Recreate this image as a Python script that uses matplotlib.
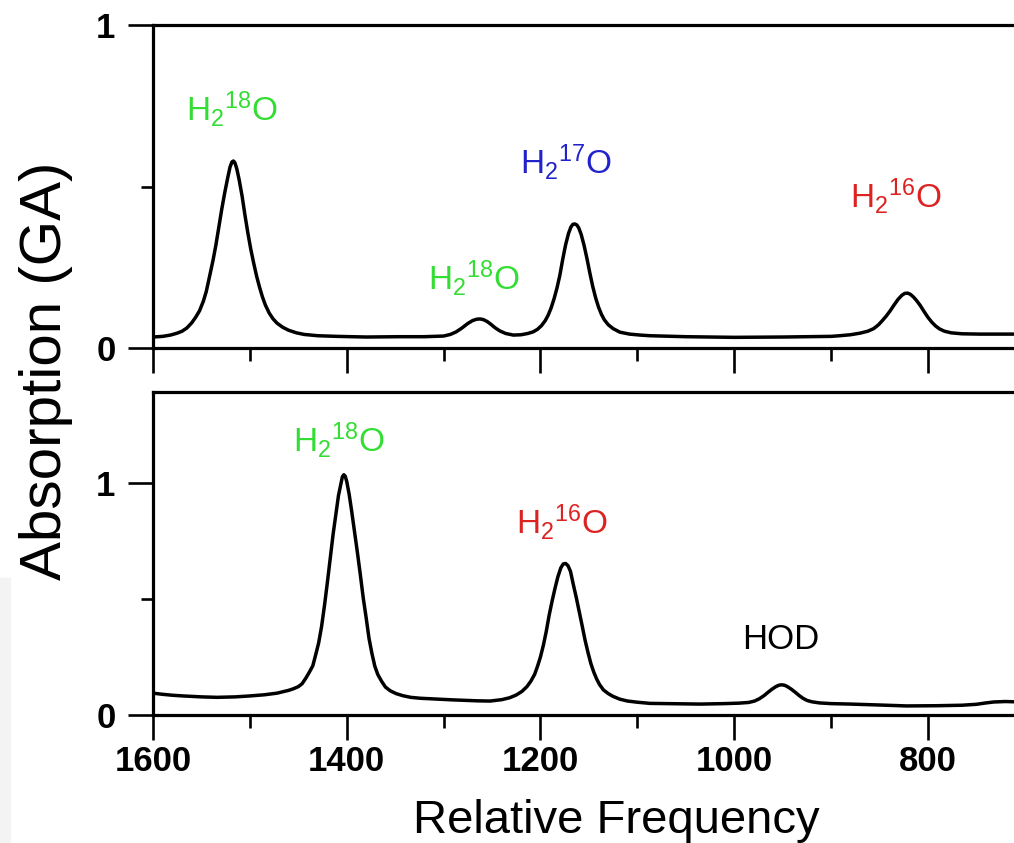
import matplotlib
matplotlib.use('Agg')
import matplotlib.pyplot as plt
from matplotlib.patches import Rectangle

plt.rcParams['font.family'] = ['Liberation Sans', 'DejaVu Sans']
plt.rcParams['mathtext.default'] = 'regular'

# upper spectrum, (frequency, absorption)
top_trace = [
    (1600, 0.034), (1590, 0.036), (1582, 0.040), (1575, 0.046), (1570, 0.052), (1565, 0.062),
    (1560, 0.078), (1556, 0.095), (1552, 0.115), (1548, 0.145), (1545, 0.175), (1541, 0.230),
    (1538, 0.272), (1535, 0.320), (1532, 0.375), (1529, 0.430), (1526, 0.480), (1523, 0.525),
    (1520.5, 0.560), (1518.5, 0.576), (1517, 0.579), (1515.5, 0.574), (1513.5, 0.555),
    (1511, 0.520), (1508, 0.470), (1505, 0.410), (1502, 0.355), (1499, 0.305), (1496, 0.262),
    (1493, 0.222), (1490, 0.188), (1487, 0.158), (1484, 0.133), (1480, 0.108), (1476, 0.090),
    (1472, 0.077), (1466, 0.064), (1460, 0.055), (1452, 0.047), (1444, 0.042), (1430, 0.038),
    (1410, 0.036), (1380, 0.034), (1345, 0.035), (1320, 0.035), (1300, 0.037), (1293, 0.042),
    (1287, 0.050), (1281, 0.062), (1275, 0.076), (1270, 0.085), (1266, 0.089), (1262.5, 0.090),
    (1259, 0.088), (1255, 0.082), (1251, 0.073), (1247, 0.063), (1242, 0.053), (1236, 0.045),
    (1228, 0.040), (1220, 0.041), (1213, 0.045), (1207.5, 0.050), (1203, 0.058), (1199, 0.069),
    (1195, 0.085), (1192, 0.102), (1189, 0.124), (1186, 0.152), (1183, 0.185), (1180, 0.225),
    (1177, 0.275), (1174, 0.320), (1171, 0.355), (1168.5, 0.375), (1166.5, 0.383),
    (1164.5, 0.384), (1162.5, 0.381), (1160.5, 0.372), (1158, 0.352), (1155, 0.318),
    (1152, 0.277), (1149, 0.232), (1146, 0.190), (1143, 0.155), (1140, 0.126), (1137, 0.104),
    (1134, 0.087), (1130, 0.072), (1125, 0.060), (1118, 0.049), (1108, 0.043), (1097, 0.040),
    (1087, 0.038), (1050, 0.035), (1000, 0.033), (950, 0.034), (900, 0.036), (891, 0.038),
    (880, 0.041), (870, 0.046), (862, 0.052), (856, 0.060), (851, 0.072), (847, 0.085),
    (843, 0.099), (839, 0.115), (835, 0.133), (831, 0.150), (827, 0.163), (824, 0.169),
    (821, 0.170), (818, 0.166), (815, 0.158), (812, 0.148), (808, 0.132), (804, 0.113),
    (800, 0.095), (796, 0.080), (792, 0.068), (788, 0.059), (783, 0.052), (776, 0.047),
    (765, 0.044), (746, 0.043), (712, 0.043)]

# lower spectrum
bot_trace = [
    (1600, 0.094), (1590, 0.089), (1580, 0.085), (1569, 0.082), (1550, 0.078), (1534, 0.076),
    (1515, 0.078), (1500, 0.082), (1485, 0.087), (1472, 0.094), (1466, 0.100), (1460, 0.106),
    (1455, 0.113), (1450, 0.122), (1446, 0.135), (1442, 0.160), (1438.5, 0.185), (1435, 0.212),
    (1432, 0.260), (1429, 0.310), (1426, 0.380), (1423, 0.470), (1420, 0.570), (1417, 0.675),
    (1414, 0.780), (1411, 0.870), (1408.5, 0.945), (1406, 0.995), (1404.5, 1.025), (1403, 1.034),
    (1401.5, 1.027), (1400, 1.005), (1397.5, 0.950), (1395, 0.880), (1392, 0.790), (1389, 0.700),
    (1386, 0.605), (1383, 0.505), (1380, 0.420), (1377, 0.330), (1374, 0.265), (1371, 0.210),
    (1368, 0.175), (1364, 0.145), (1360, 0.120), (1355, 0.104), (1349, 0.092), (1342, 0.083),
    (1334, 0.076), (1324, 0.072), (1290, 0.065), (1265, 0.061), (1252, 0.060), (1240, 0.066),
    (1232, 0.074), (1225, 0.086), (1219, 0.102), (1214, 0.122), (1210, 0.145), (1206, 0.175),
    (1203, 0.210), (1200, 0.250), (1197, 0.300), (1194, 0.360), (1191, 0.430), (1188, 0.490),
    (1185, 0.545), (1182, 0.595), (1179, 0.633), (1176.5, 0.650), (1174, 0.652), (1171.5, 0.642),
    (1169, 0.618), (1166, 0.560), (1163, 0.505), (1160, 0.445), (1157, 0.385), (1154, 0.323),
    (1151, 0.270), (1148, 0.222), (1145, 0.185), (1142, 0.155), (1139, 0.131), (1135, 0.108),
    (1130, 0.092), (1125, 0.080), (1118, 0.068), (1110, 0.060), (1100, 0.055), (1087, 0.050),
    (1035, 0.047), (1010, 0.049), (995, 0.051), (985, 0.054), (979, 0.060), (974, 0.070),
    (969, 0.084), (965, 0.098), (961, 0.111), (957, 0.122), (954, 0.128), (951, 0.130),
    (948, 0.128), (945, 0.122), (941, 0.111), (937, 0.098), (933, 0.084), (929, 0.072),
    (925, 0.063), (920, 0.057), (912, 0.052), (900, 0.049), (880, 0.047), (850, 0.043),
    (822, 0.039), (790, 0.040), (765, 0.042), (750, 0.046), (740, 0.052), (732, 0.056),
    (720, 0.058), (712, 0.057)]

# peak labels: text, frequency, absorption, colour
top_labels = [(r'$H_2{}^{18}O$', 1518, 0.741, '#33dd33'),
              (r'$H_2{}^{18}O$', 1269, 0.216, '#33dd33'),
              (r'$H_2{}^{17}O$', 1174, 0.576, '#2222cc'),
              (r'$H_2{}^{16}O$', 833, 0.470, '#dd2222')]
bot_labels = [(r'$H_2{}^{18}O$', 1408, 1.185, '#33dd33'),
              (r'$H_2{}^{16}O$', 1178, 0.830, '#dd2222'),
              ('HOD', 952, 0.327, 'black')]

x_major = [1600, 1400, 1200, 1000, 800]
x_minor = [1500, 1300, 1100, 900]
x_ticklabels = ['1600', '1400', '1200', '1000', '800']


def style_axis(ax, ymax):
    ax.set_xlim(1600, 643)
    ax.set_ylim(0, ymax)
    ax.set_xticks(x_major)
    ax.set_xticks(x_minor, minor=True)
    ax.set_yticks([0, 1])
    ax.set_yticks([0.5], minor=True)
    ax.set_yticklabels(['0', '1'], fontweight='bold')
    ax.tick_params(which='major', direction='out', length=18, width=1.9, labelsize=25)
    ax.tick_params(which='minor', direction='out', length=9, width=1.9)
    ax.tick_params(axis='y', which='major', pad=9)
    ax.tick_params(axis='x', which='major', pad=3.5)
    for s in ax.spines.values():
        s.set_linewidth(2.3)
    ax.spines['right'].set_visible(False)


fig = plt.figure(figsize=(10.14, 8.43), dpi=100)
ax1 = fig.add_axes([153 / 1014, 1 - 348 / 843, 927 / 1014, 323 / 843])
ax2 = fig.add_axes([153 / 1014, 1 - 715 / 843, 927 / 1014, 323 / 843])

f, a = zip(*top_trace)
ax1.plot(f, a, color='black', lw=2.5, solid_joinstyle='round')
style_axis(ax1, 1.0)
ax1.tick_params(axis='x', labelbottom=False)
for txt, x, y, c in top_labels:
    ax1.text(x, y, txt, color=c, fontsize=24, ha='center', va='center')

f, a = zip(*bot_trace)
ax2.plot(f, a, color='black', lw=2.5, solid_joinstyle='round')
style_axis(ax2, 1.39)
ax2.set_xticklabels(x_ticklabels, fontweight='bold')
for txt, x, y, c in bot_labels:
    ax2.text(x, y, txt, color=c, fontsize=24 if txt != 'HOD' else 25, ha='center', va='center')

fig.text(46 / 1014, 0.56, 'Absorption (GA)', rotation=90, fontsize=42, ha='center', va='center')
fig.text(0.608, 1 - 833 / 843, 'Relative Frequency', fontsize=34, ha='center', va='baseline')

# faint screenshot edge at the lower left
fig.patches.append(Rectangle((0, 0), 10 / 1014, 265 / 843, transform=fig.transFigure,
                             color='#f3f3f3', zorder=-1))

fig.savefig('out.png', dpi=100)
